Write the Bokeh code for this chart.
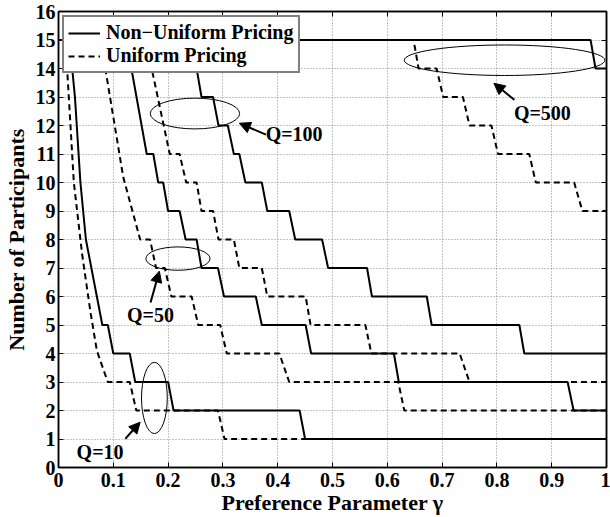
from bokeh.plotting import figure
from bokeh.models import (Range1d, FixedTicker, LinearAxis, Arrow, NormalHead, Label,
                          Legend, LegendItem, CustomJSTickFormatter)
from bokeh.embed import file_html
from bokeh.resources import INLINE

# ---------------- data ----------------
x_ticks = [0.0, 0.1, 0.2, 0.3, 0.4, 0.5, 0.6, 0.7, 0.8, 0.9, 1.0]
x_tick_labels = ["0", "0.1", "0.2", "0.3", "0.4", "0.5", "0.6", "0.7", "0.8", "0.9", "1"]
y_ticks = [0, 1, 2, 3, 4, 5, 6, 7, 8, 9, 10, 11, 12, 13, 14, 15, 16]
y_tick_labels = [str(v) for v in y_ticks]

# Q = 10
q10_nonuni_gamma = [0, 0.02, 0.03, 0.04, 0.05, 0.06, 0.07, 0.08, 0.09, 0.10, 0.13, 0.14, 0.20, 0.21, 0.44, 0.45, 1.0]
q10_nonuni_n     = [15, 15, 13, 10, 8, 7, 6, 5, 5, 4, 4, 3, 3, 2, 2, 1, 1]
q10_uni_gamma = [0, 0.01, 0.016, 0.028, 0.034, 0.043, 0.058, 0.070, 0.079, 0.09, 0.13, 0.142, 0.291, 0.303, 1.0]
q10_uni_n     = [15, 15, 13.9, 10, 9, 7.5, 5.5, 4.1, 3.6, 3, 3, 2, 2, 1, 1]

# Q = 50
q50_nonuni_gamma = [0, 0.12, 0.133, 0.161, 0.173, 0.182, 0.191, 0.20, 0.221, 0.232, 0.252, 0.261, 0.291, 0.302,
                    0.36, 0.371, 0.451, 0.461, 0.612, 0.621, 0.929, 0.94, 1.0]
q50_nonuni_n     = [15, 15, 14, 11, 11, 10, 10, 9, 9, 8, 8, 7, 7, 6, 6, 5, 5, 4, 4, 3, 3, 2, 2]
q50_uni_gamma = [0, 0.075, 0.088, 0.118, 0.149, 0.167, 0.178, 0.194, 0.206, 0.243, 0.255, 0.295, 0.307,
                 0.403, 0.421, 0.62, 0.631, 1.0]
q50_uni_n     = [15, 15, 13.7, 10.2, 8, 8, 7, 7, 6, 6, 5, 5, 4, 4, 3, 3, 2, 2]

# Q = 100
q100_nonuni_gamma = [0, 0.24, 0.252, 0.261, 0.282, 0.292, 0.309, 0.32, 0.33, 0.341, 0.371, 0.381, 0.421, 0.432,
                     0.481, 0.492, 0.563, 0.572, 0.672, 0.681, 0.841, 0.85, 1.0]
q100_nonuni_n     = [15, 15, 14, 13, 13, 12, 12, 11, 11, 10, 10, 9, 9, 8, 8, 7, 7, 6, 6, 5, 5, 4, 4]
q100_uni_gamma = [0, 0.16, 0.17, 0.203, 0.221, 0.233, 0.252, 0.261, 0.282, 0.292, 0.32, 0.33, 0.371, 0.381,
                  0.451, 0.46, 0.56, 0.571, 0.732, 0.75, 1.0]
q100_uni_n     = [15, 15, 14, 11, 11, 10, 10, 9, 9, 8, 8, 7, 7, 6, 6, 5, 5, 4, 4, 3, 3]

# Q = 500
q500_nonuni_gamma = [0, 0.971, 0.98, 1.0]
q500_nonuni_n     = [15, 15, 14, 14]
q500_uni_gamma = [0, 0.648, 0.657, 0.69, 0.702, 0.738, 0.75, 0.79, 0.802, 0.859, 0.871, 0.941, 0.956, 1.0]
q500_uni_n     = [15, 15, 14, 14, 13, 13, 12, 12, 11, 11, 10, 10, 9, 9]

# annotations: ellipse centres / sizes (data units), arrows, labels
ell_x = [0.175, 0.218, 0.249, 0.814]
ell_y = [2.44, 7.33, 12.42, 14.29]
ell_w = [0.047, 0.117, 0.163, 0.366]
ell_h = [2.5, 0.82, 1.08, 1.07]
arrows = [  # x_start, y_start, x_end, y_end
    (0.122, 1.01, 0.149, 1.59),
    (0.168, 5.79, 0.184, 6.89),
    (0.3785, 11.68, 0.330, 12.08),
    (0.832, 12.90, 0.7945, 13.48),
]
q_labels = ["Q=10", "Q=50", "Q=100", "Q=500"]
q_label_x = [0.033, 0.125, 0.378, 0.831]
q_label_y = [0.55, 5.36, 11.69, 12.43]

# ---------------- figure ----------------
FONT = "Liberation Serif"

p = figure(width=610, height=517, output_backend="svg", toolbar_location=None,
           x_range=Range1d(0, 1), y_range=Range1d(0, 16),
           x_axis_label="Preference Parameter \u03b3", y_axis_label="Number of Participants")
p.min_border_left = 55
p.min_border_right = 4
p.min_border_top = 11
p.min_border_bottom = 50
p.background_fill_color = "white"
p.border_fill_color = "white"
p.outline_line_color = "black"
p.outline_line_width = 1.5

for ax, ticks, labels in ((p.xaxis[0], x_ticks, x_tick_labels), (p.yaxis[0], y_ticks, y_tick_labels)):
    ax.ticker = FixedTicker(ticks=ticks)
    ax.major_label_overrides = dict(zip(ticks, labels))
    ax.major_tick_in = 5
    ax.major_tick_out = 0
    ax.minor_tick_in = 0
    ax.minor_tick_out = 0
    ax.axis_line_width = 1.5
    ax.major_tick_line_width = 1
    ax.major_label_text_font = FONT
    ax.major_label_text_font_style = "bold"
    ax.major_label_text_font_size = "20px"
    ax.major_label_text_color = "black"
    ax.axis_label_text_font = FONT
    ax.axis_label_text_font_style = "bold"
    ax.axis_label_text_font_size = "22px"
    ax.axis_label_text_color = "black"

p.xaxis[0].major_label_standoff = 5
p.xaxis[0].axis_label_standoff = 0
p.yaxis[0].major_label_standoff = 3
p.yaxis[0].axis_label_standoff = 4

for side, ticks in (("above", x_ticks), ("right", y_ticks)):
    ax = LinearAxis(ticker=FixedTicker(ticks=ticks),
                    formatter=CustomJSTickFormatter(code="return ''"),
                    major_tick_in=5, major_tick_out=0, minor_tick_in=0, minor_tick_out=0,
                    major_label_standoff=0, major_label_text_font_size="0px",
                    axis_label_standoff=0, axis_line_width=1.5)
    p.add_layout(ax, side)

for g in (p.xgrid[0], p.ygrid[0]):
    g.grid_line_color = "#8a8a8a"
    g.grid_line_dash = "1 2"
    g.grid_line_width = 1
p.xgrid[0].ticker = FixedTicker(ticks=x_ticks)
p.ygrid[0].ticker = FixedTicker(ticks=y_ticks[1:-1])

solid = dict(line_color="black", line_width=2)
dashed = dict(line_color="black", line_width=2, line_dash="6 4")

curves = [
    (q10_nonuni_gamma, q10_nonuni_n, q10_uni_gamma, q10_uni_n),
    (q50_nonuni_gamma, q50_nonuni_n, q50_uni_gamma, q50_uni_n),
    (q100_nonuni_gamma, q100_nonuni_n, q100_uni_gamma, q100_uni_n),
    (q500_nonuni_gamma, q500_nonuni_n, q500_uni_gamma, q500_uni_n),
]
r_solid = r_dash = None
for ng, nn, ug, un in curves:
    rd = p.line(ug, un, **dashed)
    rs = p.line(ng, nn, **solid)
    if r_solid is None:
        r_solid, r_dash = rs, rd

p.ellipse(x=ell_x, y=ell_y, width=ell_w, height=ell_h, fill_color=None,
          line_color="black", line_width=1)

for (xs, ys, xe, ye) in arrows:
    p.add_layout(Arrow(end=NormalHead(size=11, fill_color="black", line_color="black", line_width=1),
                       x_start=xs, y_start=ys, x_end=xe, y_end=ye,
                       line_color="black", line_width=2))

for t, lx, ly in zip(q_labels, q_label_x, q_label_y):
    p.add_layout(Label(x=lx, y=ly, text=t, text_font=FONT, text_font_style="bold",
                       text_font_size="20px", text_baseline="middle", text_align="left",
                       text_color="black"))

legend = Legend(items=[LegendItem(label="Non\u2212Uniform Pricing", renderers=[r_solid]),
                       LegendItem(label="Uniform Pricing", renderers=[r_dash])],
                location="top_left")
legend.margin = 4
legend.padding = 4
legend.spacing = 0
legend.glyph_width = 32
legend.glyph_height = 20
legend.label_height = 20
legend.label_standoff = 6
legend.label_text_font = FONT
legend.label_text_font_style = "bold"
legend.label_text_font_size = "20px"
legend.label_text_color = "black"
legend.border_line_color = "black"
legend.border_line_width = 2
legend.background_fill_color = "white"
legend.background_fill_alpha = 1
p.add_layout(legend)

open("out.html", "w").write(file_html(p, INLINE))
